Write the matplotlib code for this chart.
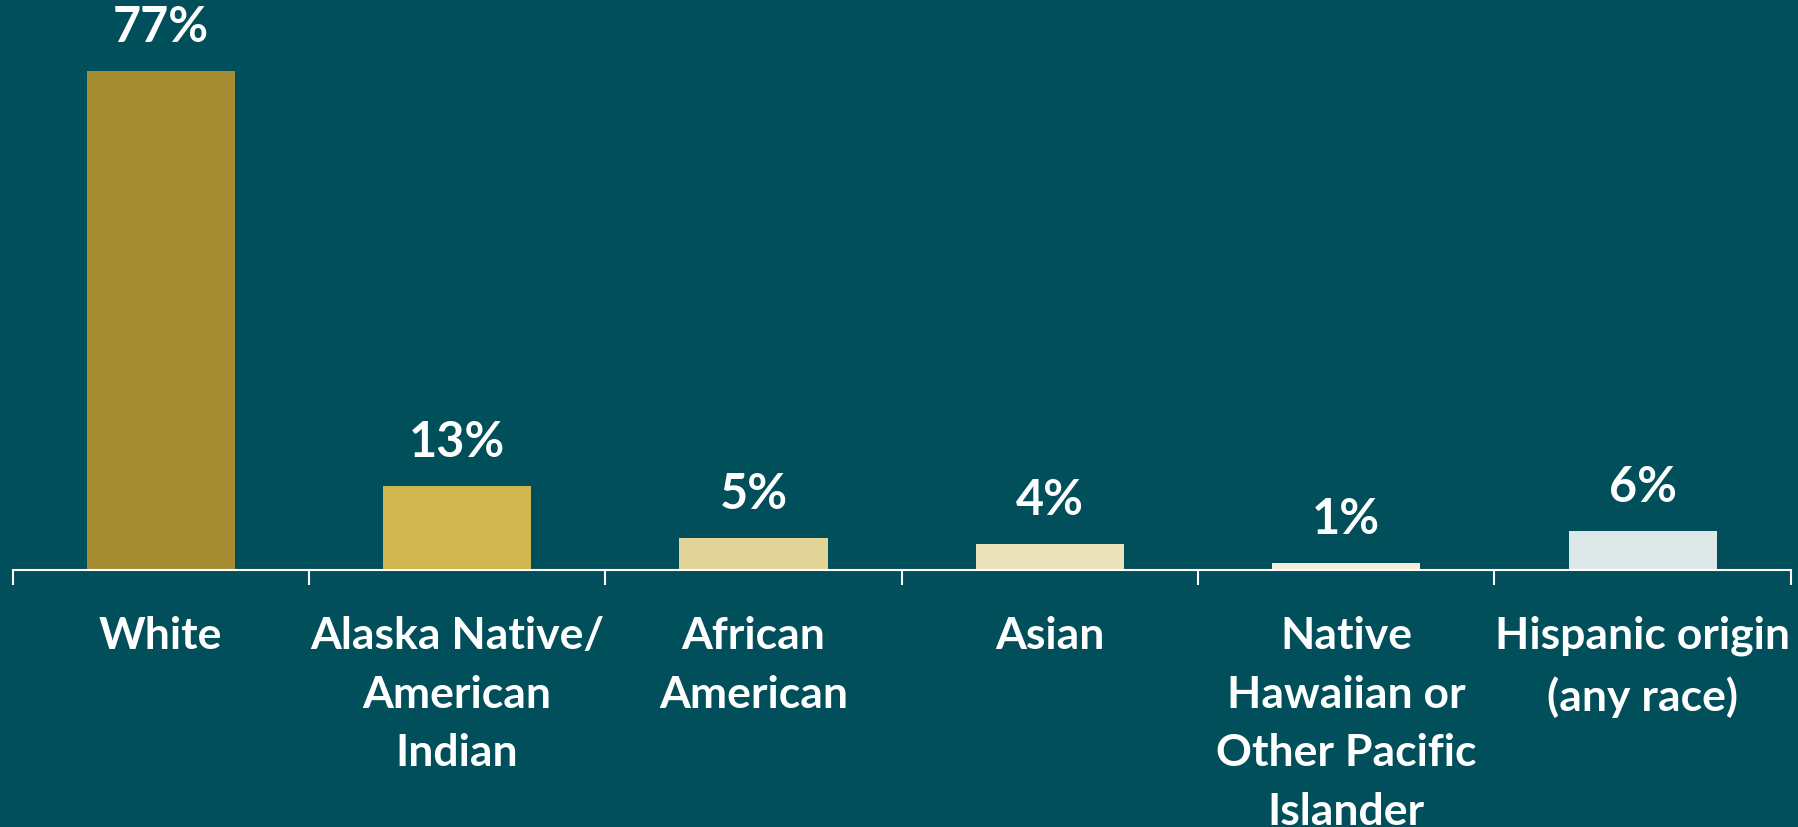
import matplotlib.pyplot as plt
import numpy as np

categories = ['White', 'Alaska Native/\nAmerican\nIndian', 'African\nAmerican', 'Asian',
              'Native\nHawaiian or\nOther Pacific\nIslander', 'Hispanic origin\n(any race)']
values = [77, 13, 5, 4, 1, 6]
value_labels = ['77%', '13%', '5%', '4%', '1%', '6%']
bar_colors = ['#A68D31', '#CFB650', '#E2D498', '#EBE2BA', '#F4EEDB', '#DFE8E8']

bg = '#014F5A'

fig = plt.figure(figsize=(17.98, 8.27), dpi=100, facecolor=bg)
ax = fig.add_axes([0.007, 0.3108, 0.989, 0.6892])
ax.set_facecolor(bg)

x = np.arange(len(categories))
ax.bar(x, values, width=0.5, color=bar_colors, zorder=2)

# percentage labels above bars
for xi, v, lab in zip(x, values, value_labels):
    ax.annotate(lab, (xi, v), xytext=(0, 21), textcoords='offset pixels',
                ha='center', va='bottom', color='white', fontsize=35,
                fontweight='bold', family='Lato')

ax.set_xlim(-0.5, len(categories) - 0.5)
ax.set_ylim(0, 88)

for s in ['top', 'right', 'left']:
    ax.spines[s].set_visible(False)
ax.spines['bottom'].set_color('white')
ax.spines['bottom'].set_linewidth(1.5)

ax.set_yticks([])
ax.set_xticks(x)
ax.set_xticklabels(categories, color='white', fontsize=32, fontweight='bold',
                   family='Lato', linespacing=1.57, va='top')
ax.tick_params(axis='x', which='major', length=0, pad=33)
# ticks between categories
ax.set_xticks(np.arange(-0.5, len(categories)), minor=True)
ax.tick_params(axis='x', which='minor', length=11, width=1.5, color='white')

fig.savefig('out.png', dpi=100, facecolor=bg)
